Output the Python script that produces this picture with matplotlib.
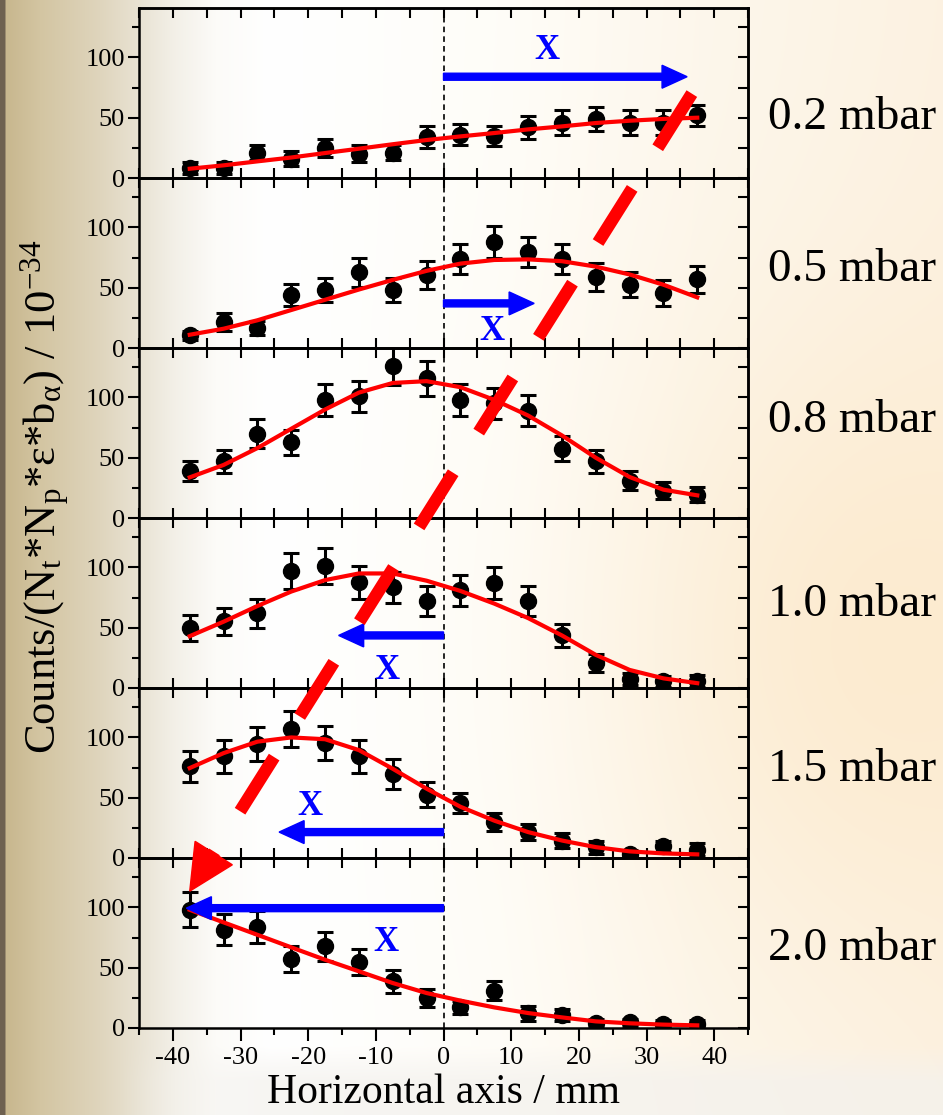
import numpy as np
import matplotlib
matplotlib.use('Agg')
from matplotlib import pyplot as plt
from matplotlib import transforms
from matplotlib.lines import Line2D
from matplotlib.patches import Polygon
from matplotlib.colors import to_rgb

plt.rcParams['font.family'] = ['Liberation Serif', 'DejaVu Serif']
plt.rcParams['mathtext.fontset'] = 'custom'
plt.rcParams['mathtext.rm'] = 'Liberation Serif'
plt.rcParams['mathtext.it'] = 'Liberation Serif:italic'
plt.rcParams['mathtext.bf'] = 'Liberation Serif:bold'
plt.rcParams['lines.scale_dashes'] = False
plt.rcParams['axes.unicode_minus'] = False

# horizontal position of the measurement points (mm)
x_mm = [-37.5, -32.5, -27.5, -22.5, -17.5, -12.5, -7.5, -2.5,
        2.5, 7.5, 12.5, 17.5, 22.5, 27.5, 32.5, 37.5]

pressures = ['0.2 mbar', '0.5 mbar', '0.8 mbar', '1.0 mbar', '1.5 mbar', '2.0 mbar']

# measured counts (normalised) and their errors
counts_02 = [8, 8, 21, 16, 25, 20, 21, 34, 36, 35, 42, 46, 49, 46, 46, 52]
err_02 = [5, 5, 6, 6, 7.5, 7, 6, 9, 8.5, 8.5, 9.5, 10, 10, 10, 10, 8.5]
counts_05 = [10.5, 21.5, 16.6, 44, 48.3, 62.7, 48.3, 60.8, 74, 87.8, 79.5, 74, 58.8, 52.5, 45.6, 57]
err_05 = [4, 7.5, 6, 9.3, 10, 12, 10, 11.5, 12.4, 13.4, 12.7, 12.4, 11.3, 10.4, 10.4, 11]
counts_08 = [39, 47, 70, 63, 98, 101, 126, 116, 98, 95, 89, 57.5, 47, 31, 22.7, 19.3]
err_08 = [8.6, 9.3, 11.7, 10.4, 13, 13, 16, 14.4, 13.4, 12.5, 12.8, 10.4, 9.3, 7.6, 6.9, 6]
counts_10 = [49.7, 55.2, 62, 96.7, 101.4, 87.6, 83.7, 72.4, 81, 87, 72.4, 43.6, 20.7, 7.7, 5.5, 6]
err_10 = [10.5, 11, 12, 15, 14.8, 13.7, 12.8, 12.3, 13, 13.4, 12.3, 9.7, 7.2, 4.8, 4.8, 5]
counts_15 = [76, 84.3, 94.5, 107, 95.3, 84.3, 69.6, 52.5, 45.6, 29.8, 21.5, 14.4, 8.8, 3.5, 9.7, 6.9]
err_15 = [12.8, 13.5, 14, 15, 14, 13.5, 12.3, 10.4, 8.3, 7.6, 6.6, 6, 5.2, 3, 4.7, 5.5]
counts_20 = [98, 81.5, 83.7, 57.2, 67.7, 54.7, 38.7, 24.9, 17.1, 30.9, 12.4, 11, 4.1, 4.7, 3.6, 3.6]
err_20 = [14.4, 13, 13.1, 11, 12, 11, 9.4, 7.6, 5.5, 8, 6.2, 4.8, 3, 3, 3, 3]

# fitted curves read at the same x positions
fit_02 = [7.7, 10.5, 13.8, 17, 20.7, 24.3, 28, 31.5, 34.5, 37.3, 40.3, 42.8, 45.6, 47.5, 49, 50]
fit_05 = [11, 16, 23, 31.5, 40, 48.5, 56.5, 64, 70, 73, 73.5, 72, 67.5, 61, 52.5, 42]
fit_08 = [33.7, 44, 58, 74, 90, 104, 112, 113.5, 108.5, 98, 85, 68.5, 50, 34, 23.5, 18.8]
fit_10 = [43, 55, 68, 80, 89.5, 95, 95, 89, 80.5, 70, 58, 43.6, 27.5, 15, 8, 4]
fit_15 = [74.6, 87, 96.5, 100, 98.5, 89.5, 74, 57.5, 42.5, 31, 21.5, 14.5, 9, 5.5, 3.8, 3]
fit_20 = [98, 87.6, 77.3, 66.9, 56.6, 47, 37.3, 29, 22.7, 17.1, 12.4, 8.8, 5.5, 3.9, 2.8, 2.2]

counts = [counts_02, counts_05, counts_08, counts_10, counts_15, counts_20]
errors = [err_02, err_05, err_08, err_10, err_15, err_20]
fits = [fit_02, fit_05, fit_08, fit_10, fit_15, fit_20]

# blue "X" arrows (tip x, y) and X labels
arrow_tip = [36, 13.4, None, -15.5, -24.3, -38]
arrow_y = [84, 37, None, 43.6, 21.5, 99.4]
xlab_pos = [(15.3, 106), (7.2, 13.3), None, (-8.3, 14.6), (-19.7, 43), (-8.5, 71.3)]
label_y = [50, 64.6, 81, 68.8, 73, 66]

W, H = 943, 1115
fig = plt.figure(figsize=(W / 100, H / 100), dpi=100)

# background gradient
xx = np.arange(W)
key_x = [0, 4, 6, 40, 100, 140, 175, 215, 270, 500, 700, 943]
key_c = np.array([to_rgb(c) for c in ['#6e6150', '#6e6150', '#c8b78e', '#d3c5a2', '#dfd5bd', '#e9e3d4',
                                      '#f3f0e8', '#fcfbf8', '#ffffff', '#fffdf8', '#fdf7ec', '#fdf2e2']])
row = np.stack([np.interp(xx, key_x, key_c[:, k]) for k in range(3)], axis=-1)
img = np.repeat(row[None, :, :], H, axis=0)
yy, xg = np.mgrid[0:H, 0:W]
w = 0.7 * np.exp(-((xg - 880) / 260.) ** 2 - ((yy - 640) / 320.) ** 2)
img = img * (1 - w[..., None]) + np.array(to_rgb('#fce8c8')) * w[..., None]
wb = np.clip((yy - 1045) / 35., 0, 1) * np.clip((xg - 120) / 150., 0, 1) * 0.7
img = img * (1 - wb[..., None]) + np.array(to_rgb('#f3f1ed')) * wb[..., None]
bg = fig.add_axes([0, 0, 1, 1], zorder=-10)
bg.imshow(img, aspect='auto', interpolation='bilinear')
bg.axis('off')

left, right = 139 / W, 748 / W
axes = []
for i in range(6):
    bottom = 1 - (8 + 170 * (i + 1)) / H
    ax = fig.add_axes([left, bottom, right - left, 170 / H])
    ax.set_facecolor('none')
    ax.set_xlim(-45, 45)
    ax.set_ylim(0, 141)
    ax.axvline(0, color='k', lw=1.2, ls=(0, (4, 3)), zorder=1)
    ax.errorbar(x_mm, counts[i], yerr=errors[i], fmt='o', color='k', ms=11.5,
                elinewidth=2.2, capsize=5.5, capthick=2.2, zorder=2)
    ax.plot(x_mm, fits[i], color='red', lw=3, zorder=3)

    ax.set_xticks(range(-40, 41, 10))
    ax.set_xticks(range(-45, 46, 5), minor=True)
    ax.set_yticks([0, 50, 100])
    ax.set_yticks([25, 75, 125], minor=True)
    for s in ax.spines.values():
        s.set_linewidth(1.8)
    if i == 5:
        ax.tick_params(axis='x', which='major', direction='out', length=9, width=1.5, labelsize=19, pad=5)
        ax.tick_params(axis='x', which='minor', direction='out', length=5, width=1.5)
    else:
        ax.tick_params(axis='x', which='both', direction='in', length=7, width=1.5, labelbottom=False)
    ax.tick_params(axis='y', which='major', direction='out', length=8, width=1.5, labelsize=19, pad=2)
    ax.tick_params(axis='y', which='minor', direction='out', length=5, width=1.5)

    top = ax.secondary_xaxis('top')
    top.set_xticks(range(-45, 46, 5))
    top.tick_params(direction='in', length=7, width=1.5, labeltop=False)
    top.spines['top'].set_linewidth(1.8)
    rgt = ax.secondary_yaxis('right')
    rgt.set_yticks([0, 25, 50, 75, 100, 125])
    rgt.tick_params(direction='in', length=7, width=1.5, labelright=False)
    rgt.spines['right'].set_linewidth(1.8)

    if arrow_tip[i] is not None:
        ax.arrow(0, arrow_y[i], arrow_tip[i], 0, width=5.8, head_width=19, head_length=3.7,
                 length_includes_head=True, color='blue', zorder=4)
        ax.text(xlab_pos[i][0], xlab_pos[i][1], 'X', color='blue', fontsize=25,
                fontweight='bold', ha='center', va='center', zorder=4)

    trans = transforms.blended_transform_factory(ax.transAxes, ax.transData)
    ax.text(1 + 20 / 609, label_y[i], pressures[i], transform=trans, fontsize=34,
            ha='left', va='center', clip_on=False)
    axes.append(ax)

# red dashed arrow across panels
p0 = axes[0].transData.transform((36.7, 70))
p1 = axes[5].transData.transform((-37.5, 113.5))
d = p1 - p0
u = d / np.hypot(*d)
n = np.array([-u[1], u[0]])
base = p1 - u * 45
to_fig = fig.transFigure.inverted()
seg = to_fig.transform(np.array([p0, base]))
fig.add_artist(Line2D(seg[:, 0], seg[:, 1], transform=fig.transFigure, color='red', lw=9,
                      dashes=(64 * 0.72, 48 * 0.72), dash_capstyle='butt', zorder=5))
fig.add_artist(Polygon(to_fig.transform(np.array([p1, base + n * 22, base - n * 22])),
                       closed=True, transform=fig.transFigure, color='red', zorder=5))

fig.text(45 / W, 1 - 497 / H,
         r'Counts/(N$_\mathrm{t}$*N$_\mathrm{p}$*ε*b$_\mathrm{α}$) / 10$^{\mathrm{-34}}$',
         rotation=90, ha='center', va='center', fontsize=32)
fig.text(443.75 / W, 1 - 1103 / H, 'Horizontal axis / mm', ha='center', va='baseline', fontsize=30)

fig.savefig('out.png', dpi=100)
